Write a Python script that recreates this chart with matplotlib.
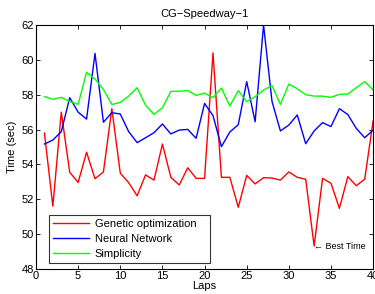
import matplotlib
matplotlib.use("Agg")
import matplotlib.pyplot as plt

plt.rcParams['font.family'] = ['Liberation Sans', 'DejaVu Sans']

laps = list(range(1, 41))
genetic = [55.8, 51.6, 57.0, 53.55, 52.97, 54.7, 53.18, 53.57, 57.2, 53.5,
           52.95, 52.2, 53.4, 53.1, 55.17, 53.26, 52.82, 53.81, 53.2, 53.2,
           60.4, 53.26, 53.26, 51.54, 53.37, 52.88, 53.24, 53.22, 53.1, 53.57,
           53.26, 53.15, 49.32, 53.2, 52.92, 51.48, 53.3, 52.78, 53.15, 56.5]
neural = [55.17, 55.4, 55.88, 57.83, 57.0, 56.6, 60.37, 56.42, 56.97, 56.89,
          55.88, 55.25, 55.53, 55.82, 56.32, 55.75, 55.97, 56.01, 55.5, 57.5,
          56.8, 55.02, 55.86, 56.28, 58.75, 56.45, 62.0, 57.62, 55.92, 56.26,
          56.84, 55.19, 55.92, 56.4, 56.17, 57.2, 56.86, 56.07, 55.53, 55.97]
simplicity = [57.89, 57.74, 57.85, 57.6, 57.45, 59.28, 58.9, 58.3, 57.44, 57.56,
              57.92, 58.4, 57.4, 56.87, 57.25, 58.19, 58.2, 58.24, 57.96, 58.09,
              57.83, 58.38, 57.35, 58.23, 57.6, 57.89, 58.27, 58.52, 57.45, 58.61,
              58.34, 58.0, 57.92, 57.92, 57.85, 58.02, 58.04, 58.4, 58.75, 58.27]

series_names = ['Genetic optimization', 'Neural Network', 'Simplicity']
title = 'CG\u2212Speedway\u22121'
xticks = [0, 5, 10, 15, 20, 25, 30, 35, 40]
yticks = [48, 50, 52, 54, 56, 58, 60, 62]
best_lap = 33
best_val = 49.32

fig = plt.figure(figsize=(3.75, 2.94), dpi=100)
ax = fig.add_axes([0.096, 0.085, 0.899, 0.83])

ax.plot(laps, genetic, color='#ff0000', lw=1.0, label=series_names[0])
ax.plot(laps, neural, color='#0000ff', lw=1.0, label=series_names[1])
ax.plot(laps, simplicity, color='#00ff00', lw=1.0, label=series_names[2])

ax.set_xlim(0, 40)
ax.set_ylim(48, 62)
ax.set_xticks(xticks)
ax.set_yticks(yticks)
ax.tick_params(direction='in', top=True, right=True, labelsize=8, length=3, width=0.6, pad=1.5)
for s in ax.spines.values():
    s.set_linewidth(0.8)

ax.set_title(title, fontsize=8, pad=6)
ax.set_xlabel('Laps', fontsize=8, labelpad=0)
ax.set_ylabel('Time (sec)', fontsize=8, labelpad=3)

leg = ax.legend(loc='lower left', fontsize=8, frameon=True, fancybox=False,
                edgecolor='black', handlelength=3.3, borderpad=0.35,
                labelspacing=0.45, handletextpad=0.5,
                bbox_to_anchor=(0.038, 0.025, 0.478, 0.19), mode='expand',
                borderaxespad=0)
leg.get_frame().set_linewidth(0.8)

ax.annotate('\u2190 Best Time', xy=(best_lap, best_val), xytext=(0, 0),
            textcoords='offset points', fontsize=6.5, va='center', ha='left')

fig.savefig('out.png', dpi=100)
